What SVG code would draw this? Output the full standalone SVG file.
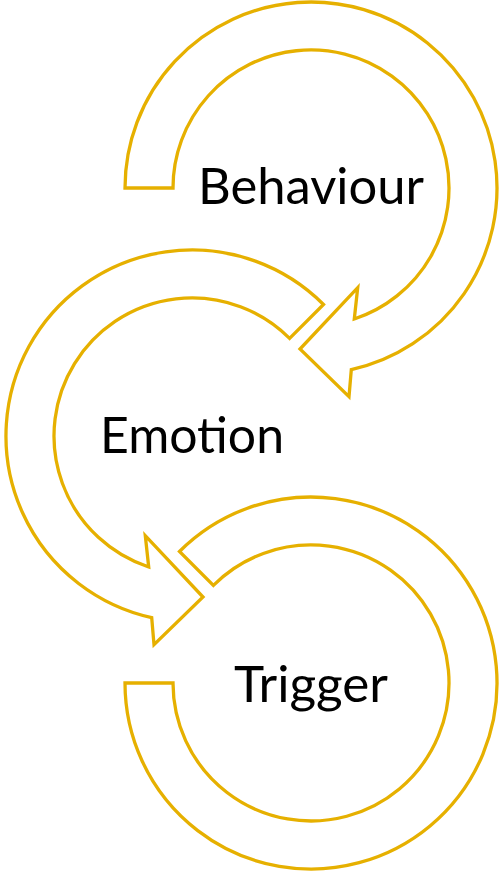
<svg xmlns="http://www.w3.org/2000/svg" width="500" height="872" viewBox="0 0 500 872">
<style>
.arrow{fill:none;stroke:#E6B000;stroke-width:3.3;stroke-linejoin:miter}
.lbl{font-family:Lato,"Open Sans","Liberation Sans",sans-serif;font-size:50px;fill:#000;text-anchor:middle}
</style>
<rect width="500" height="872" fill="#fff"/>
<g id="behaviour">
<path class="arrow" d="M173,188 L125,188 A186,186 0 1 1 351.3,369.6 L349,396.7 L300,349 L357.7,287.7 L354.3,319 A138,138 0 1 0 173,188 Z"/>
<text class="lbl" x="311" y="204" textLength="226" lengthAdjust="spacingAndGlyphs">Behaviour</text>
</g>
<g id="emotion">
<path class="arrow" d="M289.6,338.4 L323.5,304.5 A186,186 0 1 0 151.7,617.6 L154,644.7 L203,597 L145.3,535.7 L148.7,567 A138,138 0 1 1 289.6,338.4 Z"/>
<text class="lbl" x="192" y="453" textLength="184" lengthAdjust="spacingAndGlyphs">Emotion</text>
</g>
<g id="trigger">
<path class="arrow" d="M173,683 L125,683 A186,186 0 1 0 179.5,551.5 L213.4,585.4 A138,138 0 1 1 173,683 Z"/>
<text class="lbl" x="311" y="702" textLength="154" lengthAdjust="spacingAndGlyphs">Trigger</text>
</g>
<g id="connectors"></g>
</svg>
